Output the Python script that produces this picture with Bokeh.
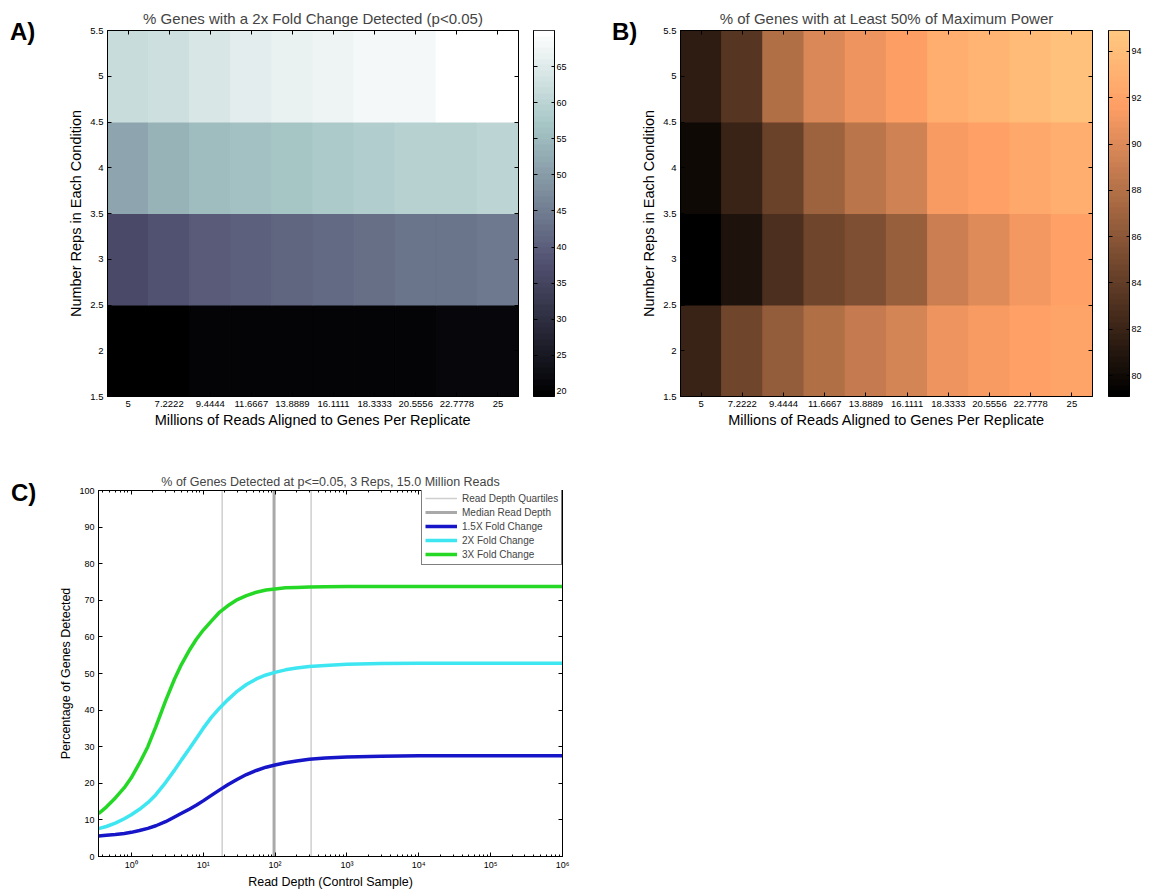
import numpy as np
from bokeh.plotting import figure
from bokeh.models import (FixedTicker, LinearAxis, LogAxis, Legend, LegendItem, Div,
                          ColumnDataSource, LinearColorMapper, CustomJSTickFormatter)
from bokeh.layouts import row, column
from bokeh.embed import file_html
from bokeh.resources import INLINE

FONT = "Liberation Sans"

# ---------------- data: heatmaps ----------------
reads = [5, 7.2222, 9.4444, 11.6667, 13.8889, 16.1111, 18.3333, 20.5556, 22.7778, 25]
read_labels = ["5", "7.2222", "9.4444", "11.6667", "13.8889", "16.1111",
               "18.3333", "20.5556", "22.7778", "25"]
reps = [2, 3, 4, 5]
rep_ticks = [1.5, 2, 2.5, 3, 3.5, 4, 4.5, 5, 5.5]
rep_tick_labels = ["1.5", "2", "2.5", "3", "3.5", "4", "4.5", "5", "5.5"]

# A) % genes with a 2x fold change detected (p<0.05)
det2x_reps2 = [19.3, 19.8, 20.1, 20.3, 20.5, 20.6, 20.7, 20.8, 20.9, 21.0]
det2x_reps3 = [36.0, 38.0, 39.5, 40.5, 41.3, 42.0, 42.6, 43.1, 43.6, 44.1]
det2x_reps4 = [51.5, 53.5, 55.0, 56.2, 57.0, 57.8, 58.4, 59.0, 59.5, 60.0]
det2x_reps5 = [61.5, 62.8, 64.2, 65.5, 66.3, 67.0, 67.8, 68.4, 69.6, 70.0]
cbA_low, cbA_high = 19.3, 70.0
cbA_ticks = [20, 25, 30, 35, 40, 45, 50, 55, 60, 65]

# B) % of genes with at least 50% of maximum power
pow_reps2 = [82.0, 84.6, 86.3, 87.8, 88.9, 89.7, 90.8, 91.3, 91.7, 92.1]
pow_reps3 = [79.1, 80.8, 83.0, 84.6, 85.4, 86.7, 89.1, 90.2, 91.1, 91.7]
pow_reps4 = [80.0, 82.0, 84.5, 87.0, 88.3, 89.4, 91.4, 91.8, 92.4, 92.9]
pow_reps5 = [81.4, 83.4, 87.8, 89.8, 90.9, 91.6, 92.9, 93.3, 93.8, 94.3]
cbB_low, cbB_high = 79.1, 94.9
cbB_ticks = [80, 82, 84, 86, 88, 90, 92, 94]

# ---------------- data: detection curves ----------------
depth = [0.35, 0.45, 0.6, 0.8, 1, 1.3, 1.7, 2.2, 3, 4, 5, 6.5, 8, 10, 13, 17, 22,
         30, 40, 55, 75, 100, 140, 200, 300, 500, 1000, 3000, 1e4, 1e5, 1e6]
fc15 = [5.6, 5.8, 6.0, 6.3, 6.6, 7.1, 7.7, 8.4, 9.5, 10.8, 11.8, 13.0, 14.0, 15.2, 16.7,
        18.2, 19.6, 21.1, 22.4, 23.5, 24.4, 25.0, 25.6, 26.1, 26.6, 26.9, 27.2, 27.4,
        27.5, 27.5, 27.5]
fc2 = [7.6, 8.2, 9.1, 10.3, 11.4, 12.9, 14.7, 16.9, 20.2, 23.6, 26.4, 29.6, 32.2, 35.0,
       38.0, 40.6, 42.8, 45.2, 47.0, 48.5, 49.6, 50.3, 51.0, 51.5, 51.9, 52.2, 52.5, 52.7,
       52.8, 52.8, 52.8]
fc3 = [11.7, 13.5, 16.0, 18.8, 21.5, 25.5, 30.0, 35.5, 42.5, 48.5, 52.5, 56.5, 59.3, 61.8,
       64.3, 66.8, 68.5, 70.2, 71.3, 72.2, 72.8, 73.1, 73.4, 73.5, 73.6, 73.7, 73.8, 73.8,
       73.8, 73.8, 73.8]
quartile_depths = [18.4, 318]
median_depth = [97]
pct_ticks = [0, 10, 20, 30, 40, 50, 60, 70, 80, 90, 100]
decade_ticks = [1, 10, 100, 1000, 10000, 100000, 1000000]
decade_labels = ["10\u2070", "10\u00b9", "10\u00b2", "10\u00b3", "10\u2074", "10\u2075", "10\u2076"]


# ---------------- colormaps (MATLAB bone / copper, 64 levels) ----------------
def bone(m=64):
    n = int(3 * m / 8)
    out = []
    for i in range(m):
        g = i / (m - 1)
        hr = min(1.0, (i + 1) / n)
        hg = 0.0 if i < n else min(1.0, (i - n + 1) / n)
        hb = 0.0 if i < 2 * n else (i - 2 * n + 1) / (m - 2 * n)
        r, gg, b = (7 * g + hb) / 8, (7 * g + hg) / 8, (7 * g + hr) / 8
        out.append("#%02x%02x%02x" % (round(r * 255), round(gg * 255), round(b * 255)))
    return out


def copper(m=64):
    out = []
    for i in range(m):
        g = i / (m - 1)
        r, gg, b = min(1, 1.25 * g), min(1, 0.7812 * g), min(1, 0.4975 * g)
        out.append("#%02x%02x%02x" % (round(r * 255), round(gg * 255), round(b * 255)))
    return out


def style_axis(ax, fs="9.5px", label_fs="14.5px"):
    ax.major_tick_in = 4
    ax.major_tick_out = 0
    ax.minor_tick_in = 0
    ax.minor_tick_out = 0
    ax.axis_line_color = "black"
    ax.major_tick_line_color = "black"
    ax.major_label_text_font = FONT
    ax.major_label_text_font_size = fs
    ax.major_label_text_color = "black"
    ax.major_label_standoff = 4
    ax.axis_label_text_font = FONT
    ax.axis_label_text_font_style = "normal"
    ax.axis_label_text_font_size = label_fs
    ax.axis_label_text_color = "black"
    ax.axis_label_standoff = 3


def hidden_axis(cls, ticker, minor_in=0):
    ax = cls(ticker=ticker, formatter=CustomJSTickFormatter(code="return ''"))
    ax.major_label_text_font_size = "0px"
    ax.major_label_standoff = 0
    ax.major_tick_in = 4
    ax.major_tick_out = 0
    ax.minor_tick_in = minor_in
    ax.minor_tick_out = 0
    ax.axis_line_color = "black"
    return ax


def label_div(text, width, height, left, top):
    html = ('<div style="padding:%dpx 0 0 %dpx; font-family:\'%s\'; font-size:24px; '
            'font-weight:bold; line-height:24px; color:black;">%s</div>'
            % (top, left, FONT, text))
    return Div(text=html, width=width, height=height, margin=(0, 0, 0, 0))


def heatmap(title, rows_vals, palette, low, high, width, height, mbl, mbr, mbt, mbb):
    xs, ys, vs = [], [], []
    for rep, vals in zip(reps, rows_vals):
        for x, v in zip(reads, vals):
            xs.append(x)
            ys.append(rep)
            vs.append(v)
    src = ColumnDataSource(dict(x=xs, y=ys, v=vs))
    dx = reads[1] - reads[0]
    p = figure(width=width, height=height, x_range=(reads[0] - dx / 2, reads[-1] + dx / 2),
               y_range=(rep_ticks[0], rep_ticks[-1]), output_backend="svg",
               toolbar_location=None, min_border_left=mbl, min_border_right=mbr,
               min_border_top=mbt, min_border_bottom=mbb, title=title)
    mapper = LinearColorMapper(palette=palette, low=low, high=high)
    p.rect("x", "y", width=dx, height=1, source=src,
           fill_color={"field": "v", "transform": mapper},
           line_color={"field": "v", "transform": mapper}, line_width=1.2)
    p.grid.visible = False
    p.outline_line_color = "black"
    p.background_fill_color = "white"
    p.border_fill_color = "white"
    p.title.text_font = FONT
    p.title.text_font_size = "15px"
    p.title.text_font_style = "normal"
    p.title.align = "center"
    p.title.standoff = 7
    xt = FixedTicker(ticks=reads)
    yt = FixedTicker(ticks=rep_ticks)
    p.xaxis.ticker = xt
    p.yaxis.ticker = yt
    p.xaxis.major_label_overrides = {r: l for r, l in zip(reads, read_labels)}
    p.yaxis.major_label_overrides = {r: l for r, l in zip(rep_ticks, rep_tick_labels)}
    p.xaxis.axis_label = "Millions of Reads Aligned to Genes Per Replicate"
    p.yaxis.axis_label = "Number Reps in Each Condition"
    style_axis(p.xaxis[0], label_fs="14.5px")
    style_axis(p.yaxis[0], label_fs="14.5px")
    p.xaxis.axis_label_standoff = 2
    p.add_layout(hidden_axis(LinearAxis, xt), "above")
    p.add_layout(hidden_axis(LinearAxis, yt), "right")
    return p


def colorbar(palette, low, high, ticks, width, height, mbl, mbr, mbt, mbb):
    p = figure(width=width, height=height, x_range=(0, 1), y_range=(low, high),
               output_backend="svg", toolbar_location=None, x_axis_location=None,
               y_axis_location="right", min_border_left=mbl, min_border_right=mbr,
               min_border_top=mbt, min_border_bottom=mbb)
    n = len(palette)
    levels = low + (np.arange(n) + 0.5) * (high - low) / n
    mapper = LinearColorMapper(palette=palette, low=low, high=high)
    p.image(image=[levels.reshape(n, 1)], x=0, y=low, dw=1, dh=high - low,
            color_mapper=mapper)
    p.grid.visible = False
    p.outline_line_color = "black"
    p.border_fill_color = "white"
    t = FixedTicker(ticks=ticks)
    p.yaxis.ticker = t
    style_axis(p.yaxis[0], fs="9px")
    p.yaxis.major_label_standoff = 2
    p.yaxis.major_tick_in = 3
    p.add_layout(hidden_axis(LinearAxis, t), "left")
    p.yaxis[-1].major_tick_in = 3
    return p


# ---------------- row 1 ----------------
H1 = 440
lA = label_div("A)", 45, H1, 10, 20)
pA = heatmap("% Genes with a 2x Fold Change Detected (p<0.05)",
             [det2x_reps2, det2x_reps3, det2x_reps4, det2x_reps5], bone(), cbA_low, cbA_high,
             480, H1, 62, 7, 29, 44)
cA = colorbar(bone(), cbA_low, cbA_high, cbA_ticks, 75, H1, 8, 46, 29, 44)
lB = label_div("B)", 38, H1, 12, 20)
pB = heatmap("% of Genes with at Least 50% of Maximum Power",
             [pow_reps2, pow_reps3, pow_reps4, pow_reps5], copper(), cbB_low, cbB_high,
             462, H1, 42, 8, 30, 43)
cB = colorbar(copper(), cbB_low, cbB_high, cbB_ticks, 48, H1, 8, 19, 30, 43)

# ---------------- row 2 ----------------
H2 = 451
lC = label_div("C)", 48, H2, 11, 41)
pC = figure(width=560, height=H2, x_axis_type="log", x_range=(0.35, 1e6), y_range=(0, 100),
            output_backend="svg", toolbar_location=None, min_border_left=50,
            min_border_right=46, min_border_top=50, min_border_bottom=35,
            title="% of Genes Detected at p<=0.05, 3 Reps, 15.0 Million Reads")
pC.grid.visible = False
pC.outline_line_color = "black"
pC.border_fill_color = "white"
pC.title.text_font = FONT
pC.title.text_font_size = "12.5px"
pC.title.text_font_style = "normal"
pC.title.align = "center"
pC.title.standoff = 4

rq = pC.segment(x0=quartile_depths, x1=quartile_depths, y0=[pct_ticks[0]] * len(quartile_depths),
                y1=[pct_ticks[-1]] * len(quartile_depths), line_color="#cfcfcf", line_width=1.5)
rm = pC.segment(x0=median_depth, x1=median_depth, y0=[pct_ticks[0]], y1=[pct_ticks[-1]],
                line_color="#a9a9a9", line_width=3)
r15 = pC.line(depth, fc15, line_color="#1616c8", line_width=3.5)
r2 = pC.line(depth, fc2, line_color="#3ee6f2", line_width=3.5)
r3 = pC.line(depth, fc3, line_color="#26d826", line_width=3.5)

minor = [k * 10.0 ** d for d in range(-1, 6) for k in range(2, 10)]
lt = FixedTicker(ticks=decade_ticks, minor_ticks=minor)
pC.xaxis.ticker = lt
pC.xaxis.major_label_overrides = {t: l for t, l in zip(decade_ticks, decade_labels)}
yt = FixedTicker(ticks=pct_ticks)
pC.yaxis.ticker = yt
pC.xaxis.axis_label = "Read Depth (Control Sample)"
pC.yaxis.axis_label = "Percentage of Genes Detected"
style_axis(pC.xaxis[0], fs="9px", label_fs="12.5px")
style_axis(pC.yaxis[0], fs="9px", label_fs="12.5px")
pC.xaxis.minor_tick_in = 2
pC.xaxis.axis_label_standoff = 2
pC.xaxis.major_label_standoff = 3
pC.add_layout(hidden_axis(LogAxis, lt, minor_in=2), "above")
pC.add_layout(hidden_axis(LinearAxis, yt), "right")

legend = Legend(items=[
    LegendItem(label="Read Depth Quartiles", renderers=[rq]),
    LegendItem(label="Median Read Depth", renderers=[rm]),
    LegendItem(label="1.5X Fold Change", renderers=[r15]),
    LegendItem(label="2X Fold Change", renderers=[r2]),
    LegendItem(label="3X Fold Change", renderers=[r3]),
], location=(323, 291))
legend.margin = 0
legend.padding = 3
legend.spacing = 0
legend.glyph_width = 32
legend.glyph_height = 14
legend.label_height = 14
legend.label_standoff = 5
legend.label_text_font = FONT
legend.label_text_font_size = "10px"
legend.border_line_color = "black"
legend.border_line_width = 1
legend.background_fill_alpha = 1
pC.add_layout(legend)

layout = column(row(lA, pA, cA, lB, pB, cB), row(lC, pC))
open("out.html", "w").write(file_html(layout, INLINE))
